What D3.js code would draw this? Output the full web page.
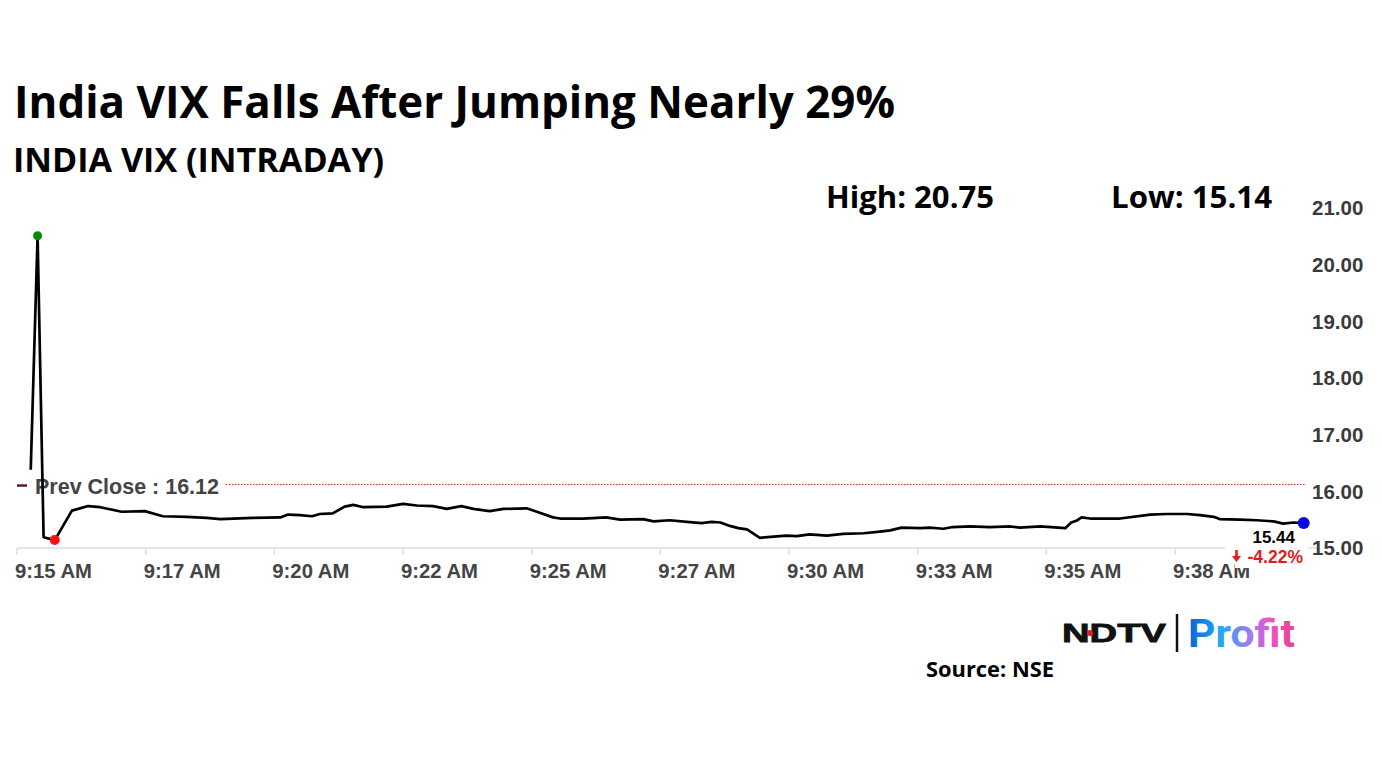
<!DOCTYPE html>
<html><head><meta charset="utf-8">
<script src="https://cdn.jsdelivr.net/npm/d3@7"></script>
<style>body{margin:0;background:#fff;} svg{display:block}</style>
</head><body>
<svg id="c" width="1382" height="777"></svg>
<script>
// ---- data ----
const times = ["9:15:16","9:15:24","9:15:31","9:15:44","9:16:04","9:16:23","9:16:37","9:17:02","9:17:29","9:17:50",
"9:18:18","9:18:41","9:18:57","9:19:35","9:20:07","9:20:16","9:20:30","9:20:44","9:20:53","9:21:08",
"9:21:22","9:21:32","9:21:44","9:22:11","9:22:30","9:22:46","9:23:05","9:23:21","9:23:38","9:23:52",
"9:24:11","9:24:27","9:24:54","9:25:06","9:25:25","9:25:33","9:26:00","9:26:27","9:26:43","9:27:10",
"9:27:22","9:27:41","9:28:01","9:28:18","9:28:30","9:28:40","9:28:51","9:29:01","9:29:11","9:29:26",
"9:29:42","9:29:57","9:30:09","9:30:24","9:30:44","9:31:03","9:31:27","9:31:46","9:31:58","9:32:11",
"9:32:33","9:32:44","9:33:00","9:33:11","9:33:31","9:33:54","9:34:18","9:34:29","9:34:53","9:35:22",
"9:35:29","9:35:35","9:35:41","9:35:51","9:36:02","9:36:26","9:37:01","9:37:20","9:37:44","9:37:59",
"9:38:15","9:38:22","9:38:46","9:39:05","9:39:25","9:39:36","9:39:48","9:40:00"];
const values = [16.38,20.51,15.19,15.14,15.66,15.74,15.72,15.64,15.65,15.56,
15.55,15.53,15.51,15.53,15.54,15.59,15.58,15.56,15.60,15.61,
15.73,15.76,15.72,15.73,15.78,15.75,15.74,15.69,15.74,15.69,
15.65,15.69,15.70,15.64,15.54,15.52,15.52,15.54,15.50,15.51,
15.47,15.49,15.46,15.44,15.46,15.45,15.39,15.35,15.33,15.18,
15.20,15.22,15.21,15.24,15.22,15.25,15.26,15.29,15.31,15.36,
15.35,15.36,15.34,15.37,15.38,15.37,15.38,15.36,15.38,15.35,
15.45,15.48,15.54,15.52,15.52,15.52,15.59,15.60,15.60,15.58,
15.55,15.51,15.50,15.49,15.47,15.43,15.45,15.44];
const xTickTimes = ["9:15:00","9:17:30","9:20:00","9:22:30","9:25:00","9:27:30","9:30:00","9:32:30","9:35:00","9:37:30"];
const xTickLabels = ["9:15 AM","9:17 AM","9:20 AM","9:22 AM","9:25 AM","9:27 AM","9:30 AM","9:33 AM","9:35 AM","9:38 AM"];
const yTicks = [15,16,17,18,19,20,21];
const prevClose = 16.12;
const dayHigh = 20.75, dayLow = 15.14;
const lastValue = 15.44, changePct = -4.22;
const titleText = "India VIX Falls After Jumping Nearly 29%";
const subtitleText = "INDIA VIX (INTRADAY)";
const sourceText = "Source: NSE";

// ---- drawing ----
const svg = d3.select("#c");
const parse = d3.timeParse("%H:%M:%S");
const data = times.map((t,i)=>({t:parse(t), v:values[i]}));
const x = d3.scaleTime().domain([parse("9:15:00"), parse("9:40:00")]).range([17, 1303.7]);
const y = d3.scaleLinear().domain([15,21]).range([548,208]);

const HF = "'Open Sans', 'Noto Sans', sans-serif";
const AF = "'Liberation Sans', Arial, sans-serif";

function txt(s, x0, y0, size, w, opts={}) {
  const t = svg.append("text").attr("x", x0).attr("y", y0).text(s)
    .attr("font-family", opts.family || HF).attr("font-weight", opts.weight || 700)
    .attr("font-size", size).attr("fill", opts.fill || "#000");
  if (opts.anchor) t.attr("text-anchor", opts.anchor);
  if (w) t.attr("textLength", w).attr("lengthAdjust", "spacingAndGlyphs");
  return t;
}

txt(titleText, 14, 118, 45, 881);
txt(subtitleText, 13, 172, 34, 371);
txt("High: " + dayHigh.toFixed(2), 826, 208, 30, 168);
txt("Low: " + dayLow.toFixed(2), 1111, 208, 30, 161);

// x axis line
svg.append("line").attr("x1", 17).attr("x2", 1319).attr("y1", y(15)).attr("y2", y(15))
  .attr("stroke", "#dddddd").attr("stroke-width", 1.5);
// x ticks
const xt = svg.append("g");
xTickTimes.forEach((tt,i)=>{
  const px = x(parse(tt));
  xt.append("line").attr("x1", px).attr("x2", px).attr("y1", y(15)).attr("y2", y(15)+7)
    .attr("stroke", "#dddddd").attr("stroke-width", 1.5);
  xt.append("text").attr("x", px - 2).attr("y", 578).text(xTickLabels[i])
    .attr("font-family", AF).attr("font-weight", 700).attr("font-size", 20.3).attr("fill", "#444");
});
// y labels
yTicks.forEach(v=>{
  svg.append("text").attr("x", 1312).attr("y", y(v)).attr("dy", "0.36em").text(v.toFixed(2))
    .attr("font-family", AF).attr("font-weight", 700).attr("font-size", 20.5).attr("fill", "#3a3a3a");
});

// prev close
svg.append("line").attr("x1", 226).attr("x2", 1305).attr("y1", y(prevClose)).attr("y2", y(prevClose))
  .attr("stroke", "#e02020").attr("stroke-width", 1).attr("stroke-dasharray", "1.5,1.5");
svg.append("line").attr("x1", 17).attr("x2", 27).attr("y1", y(prevClose)+1).attr("y2", y(prevClose)+1)
  .attr("stroke", "#5a1e1e").attr("stroke-width", 2.5);
txt("Prev Close : " + prevClose.toFixed(2), 35, 494, 21.5, 184, {family: AF, fill: "#444"});

// line
svg.append("path").datum(data)
  .attr("d", d3.line().x(d=>x(d.t)).y(d=>y(d.v)))
  .attr("fill", "none").attr("stroke", "#000").attr("stroke-width", 2.7).attr("stroke-linejoin", "round");

const maxD = data.reduce((a,b)=>b.v>a.v?b:a);
const minD = data.reduce((a,b)=>b.v<a.v?b:a);
const lastD = data[data.length-1];
svg.append("circle").attr("cx", x(maxD.t)).attr("cy", y(maxD.v)).attr("r", 4.5).attr("fill", "#0a8a0a");
svg.append("circle").attr("cx", x(minD.t)).attr("cy", y(minD.v)).attr("r", 5).attr("fill", "#ff1010");

// last value labels
svg.append("rect").attr("x", 1225).attr("y", 527).attr("width", 83).attr("height", 25).attr("fill", "#fff");
svg.append("rect").attr("x", 1235).attr("y", 552).attr("width", 73).attr("height", 16).attr("fill", "#fff");
svg.append("circle").attr("cx", x(lastD.t)).attr("cy", y(lastD.v)).attr("r", 6).attr("fill", "#0a0ae0");
txt(lastValue.toFixed(2), 1295, 543, 17, null, {family: AF, anchor: "end"});
txt(changePct.toFixed(2) + "%", 1303, 563, 17.5, null, {family: AF, fill: "#e41b1b", anchor: "end"});
// down arrow
svg.append("line").attr("x1", 1236.5).attr("x2", 1236.5).attr("y1", 550).attr("y2", 557)
  .attr("stroke", "#e41b1b").attr("stroke-width", 2.6);
svg.append("path").attr("d", "M1232,556L1241,556L1236.5,562Z").attr("fill", "#e41b1b");

// logo
txt("NDTV", 1062, 642, 26, 104, {family: AF, weight: 900, fill: "#111"}).attr("stroke", "#111").attr("stroke-width", 0.8);
svg.append("circle").attr("cx", 1090).attr("cy", 633).attr("r", 3).attr("fill", "#e41b1b");
svg.append("line").attr("x1", 1177).attr("x2", 1177).attr("y1", 614).attr("y2", 652)
  .attr("stroke", "#111").attr("stroke-width", 2.5);
const grad = svg.append("defs").append("linearGradient").attr("id", "pg")
  .attr("x1", "0%").attr("x2", "100%").attr("y1", "0%").attr("y2", "0%");
[["0%","#0b63d6"],["30%","#22a9f0"],["60%","#a878f2"],["80%","#f14fc0"],["100%","#ee3f86"]]
  .forEach(([o,c])=>grad.append("stop").attr("offset", o).attr("stop-color", c));
txt("Profit", 1188, 647, 38, 107, {family: "Roboto, 'Open Sans', sans-serif", fill: "url(#pg)"});

txt(sourceText, 926, 677, 21, 128);
</script>
</body></html>
